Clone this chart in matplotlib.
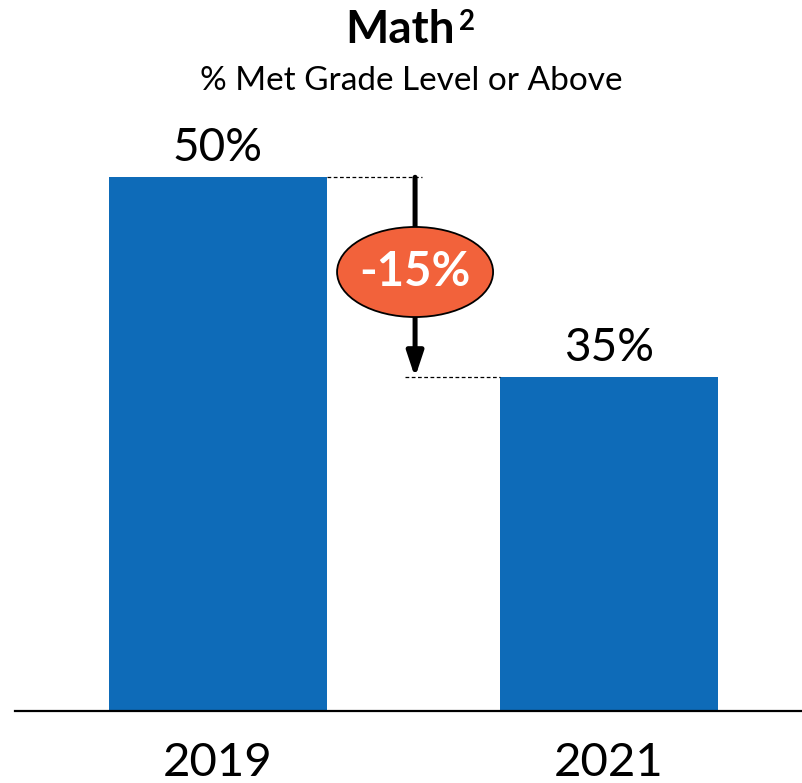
import matplotlib
matplotlib.use('Agg')
import matplotlib.pyplot as plt
from matplotlib.patches import Ellipse

plt.rcParams['font.family'] = ['Lato', 'DejaVu Sans']

# data
years = ['2019', '2021']
pct_met = [50, 35]
change_label = '-15%'

bar_color = '#0E6BB8'
oval_color = '#F2623B'

fig = plt.figure(figsize=(8.03, 7.83), dpi=100)
ax = fig.add_axes([0.0187, 0.092, 0.9813, 0.852])

x = [0, 1]
bars = ax.bar(x, pct_met, width=0.558, color=bar_color, bottom=0)
ax.set_ylim(10, 60)
ax.set_xlim(-0.519, 1.496)

for xi, v in zip(x, pct_met):
    ax.annotate(f'{v}%', (xi, v), xytext=(0, 11.5), textcoords='offset points',
                ha='center', va='baseline', fontsize=33)

# spines / ticks
for s in ['top', 'right', 'left']:
    ax.spines[s].set_visible(False)
ax.spines['bottom'].set_linewidth(1.6)
ax.set_yticks([])
ax.set_xticks(x)
ax.set_xticklabels(years, fontsize=34)
ax.tick_params(axis='x', length=0, pad=22)

# dashed guides
half = 0.558 / 2
ax.plot([0 + half, 0.522], [pct_met[0]] * 2, color='black', lw=0.9, ls=(0, (3, 2)))
ax.plot([0.478, 1 - half], [pct_met[1]] * 2, color='black', lw=0.9, ls=(0, (3, 2)))

# arrow for the drop
ax.annotate('', xy=(0.504, pct_met[1]), xytext=(0.504, pct_met[0]),
            arrowprops=dict(arrowstyle='-|>,head_width=0.5,head_length=1.5',
                            color='black', lw=3.6, shrinkA=0, shrinkB=0))

mid = 42.9
oval = Ellipse((0.504, mid), width=0.399, height=6.75, facecolor=oval_color,
               edgecolor='black', lw=1.3, zorder=5)
ax.add_patch(oval)
ax.text(0.504, mid, change_label, ha='center', va='center', color='white',
        fontsize=34, fontweight='bold', zorder=6)

# title
fig.text(0.498, 0.962, 'Math', ha='center', va='center', fontsize=33, fontweight='bold')
fig.text(0.582, 0.972, '2', ha='center', va='center', fontsize=20, fontweight='bold')
fig.text(0.512, 0.896, '% Met Grade Level or Above', ha='center', va='center', fontsize=24)

fig.savefig('out.png', dpi=100)
